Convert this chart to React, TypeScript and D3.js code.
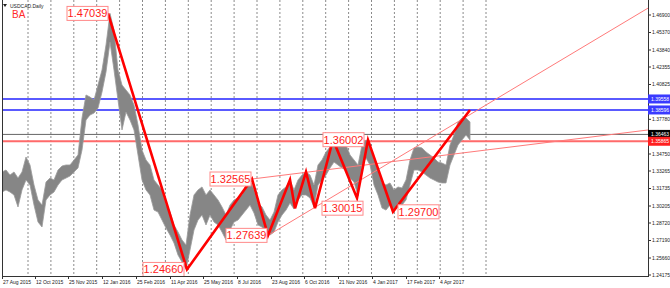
import React from 'react';
import * as d3 from 'd3';

const W = 670;
const H = 288;

// Daily price samples (every 4 bars): highs and lows
const hiPrices = [
  1.3318, 1.3335, 1.3291, 1.3318, 1.3265, 1.3318, 1.3449, 1.3379, 1.3204, 1.3073,
  1.3029, 1.3230, 1.3265, 1.3248, 1.3335, 1.3370, 1.3379, 1.3379, 1.3423, 1.3467,
  1.3790, 1.3991, 1.3973, 1.3947, 1.4078, 1.4209, 1.4428, 1.4704, 1.4559, 1.4209,
  1.4078, 1.4034, 1.3991, 1.3903, 1.3729, 1.3510, 1.3423, 1.3379, 1.3248, 1.3204,
  1.3161, 1.3029, 1.2968, 1.2855, 1.2793, 1.2724, 1.2680, 1.2942, 1.3117, 1.3161,
  1.3187, 1.3117, 1.3161, 1.3117, 1.3073, 1.3012, 1.2942, 1.3029, 1.3073, 1.3091,
  1.3117, 1.3204, 1.3248, 1.3161, 1.3047, 1.3012, 1.2942, 1.2898, 1.2968, 1.3117,
  1.3161, 1.3187, 1.3248, 1.3161, 1.3248, 1.3291, 1.3318, 1.3291, 1.3204, 1.3379,
  1.3423, 1.3493, 1.3536, 1.3589, 1.3598, 1.3580, 1.3554, 1.3467, 1.3423, 1.3379,
  1.3554, 1.3598, 1.3554, 1.3423, 1.3335, 1.3222, 1.3204, 1.3222, 1.3161, 1.3187,
  1.3178, 1.3248, 1.3423, 1.3528, 1.3536, 1.3528, 1.3493, 1.3467, 1.3440, 1.3405,
  1.3396, 1.3379, 1.3554, 1.3641, 1.3755, 1.3790, 1.3790, 1.3755,
];
const loPrices = [
  1.3143, 1.3161, 1.3143, 1.3117, 1.3012, 1.3161, 1.3248, 1.3204, 1.3029, 1.2881,
  1.2837, 1.3073, 1.3117, 1.3143, 1.3204, 1.3248, 1.3265, 1.3283, 1.3318, 1.3353,
  1.3510, 1.3772, 1.3816, 1.3833, 1.3877, 1.4017, 1.4192, 1.4454, 1.4209, 1.3947,
  1.3685, 1.3842, 1.3772, 1.3685, 1.3467, 1.3248, 1.3161, 1.3117, 1.2985, 1.2968,
  1.2898, 1.2828, 1.2767, 1.2697, 1.2592, 1.2531, 1.2468, 1.2636, 1.2811, 1.2898,
  1.2942, 1.2855, 1.2942, 1.2881, 1.2855, 1.2793, 1.2724, 1.2811, 1.2881, 1.2898,
  1.2942, 1.2985, 1.3029, 1.2959, 1.2855, 1.2837, 1.2785, 1.2767, 1.2793, 1.2881,
  1.2942, 1.2985, 1.3047, 1.2994, 1.3073, 1.3117, 1.3117, 1.3091, 1.3012, 1.3204,
  1.3248, 1.3291, 1.3353, 1.3405, 1.3379, 1.3353, 1.3335, 1.3265, 1.3230, 1.3108,
  1.3379, 1.3440, 1.3379, 1.3204, 1.3117, 1.3003, 1.2985, 1.3029, 1.2968, 1.3047,
  1.3029, 1.3073, 1.3204, 1.3335, 1.3335, 1.3318, 1.3291, 1.3265, 1.3248, 1.3230,
  1.3222, 1.3222, 1.3379, 1.3467, 1.3554, 1.3598, 1.3641, 1.3598,
];
const SAMPLE_STEP = 4;

// ZigZag pivots (bar index, price)
const zigBars = [106, 185, 250, 266, 288, 293, 304, 313, 331, 355, 366, 391, 468];
const zigPrices = [1.47039, 1.2466, 1.32565, 1.27639, 1.325, 1.3, 1.3318, 1.30015, 1.36002, 1.3091, 1.3598, 1.297, 1.386];

// Pivot text labels
const pivotTexts = ['1.47039', '1.24660', '1.32565', '1.27639', '1.36002', '1.30015', '1.29700'];
const pivotOf = [0, 1, 2, 3, 8, 7, 11];
// layout: left offset of the box relative to pivot x
const pivotBoxDx = [-41, -44, -42, -42, -10, 7, 5];

// Trend lines (bar, price) pairs
const trendA = [[250, 1.32565], [646, 1.3685]];
const trendB = [[266, 1.27639], [646, 1.475]];

// Horizontal levels
const blueLevels = [1.3956, 1.386];
const blueTexts = ['1.39558', '1.38596'];
const redLevel = 1.35865;
const redText = '1.35865';
const bidLevel = 1.36463;
const bidText = '1.36463';

// Axes
const priceTicks = [1.469, 1.4537, 1.4384, 1.42355, 1.40825, 1.3778, 1.3475, 1.33265, 1.31735, 1.30205, 1.2872, 1.2719, 1.2566, 1.24175];
const dateLabels = ['27 Aug 2015', '12 Oct 2015', '25 Nov 2015', '12 Jan 2016', '25 Feb 2016', '11 Apr 2016', '25 May 2016', '8 Jul 2016', '23 Aug 2016', '6 Oct 2016', '21 Nov 2016', '4 Jan 2017', '17 Feb 2017', '4 Apr 2017'];
const dateBars = [0, 33, 66, 100, 134, 168, 201, 235, 269, 302, 336, 370, 404, 437];

const FONT = '"Liberation Sans", Arial, sans-serif';
const AXIS_FS = 5;

export default function App() {
  const plotL = 2;
  const plotR = 648;
  const plotB = 276;
  const x = d3.scaleLinear().domain([0, 646]).range([plotL, plotR]);
  const y = d3.scaleLinear().domain([1.24175, 1.469]).range([275, 15]);

  const area = d3
    .area<number>()
    .x((_, i) => x(i * SAMPLE_STEP))
    .y0((_, i) => y(loPrices[i]))
    .y1((d) => y(d));

  const zig = d3
    .line<number>()
    .x((b) => x(b))
    .y((_, i) => y(zigPrices[i]));

  const gridBars = d3.range(0, 21).map((k) => 26 + k * 22.9);

  const axisBox = (v: number, txt: string, fill: string, key: string) => (
    <g key={key}>
      <rect x={plotR} y={y(v) - 4.5} width={22} height={9} fill={fill} />
      <text x={plotR + 3} y={y(v) + 1.8} fontSize={AXIS_FS} fill="#fff" fontFamily={FONT}>
        {txt}
      </text>
    </g>
  );

  return (
    <svg width={W} height={H} style={{ position: 'absolute', left: 0, top: 0, background: '#fff' }}>
      <defs>
        <clipPath id="plot">
          <rect x={plotL} y={0} width={plotR - plotL} height={plotB} />
        </clipPath>
      </defs>
      <rect x={0} y={0} width={W} height={H} fill="#fff" />
      {/* grid */}
      {gridBars.map((b, i) => (
        <line key={'g' + i} x1={x(b)} x2={x(b)} y1={0} y2={plotB} stroke="#8a8a8a" strokeWidth={1} strokeDasharray="2,2" />
      ))}
      <g clipPath="url(#plot)">
        {/* horizontal levels */}
        {blueLevels.map((v, i) => (
          <line key={'bl' + i} x1={plotL} x2={plotR} y1={y(v)} y2={y(v)} stroke="#5a5aff" strokeWidth={2} />
        ))}
        <line x1={plotL} x2={plotR} y1={y(bidLevel)} y2={y(bidLevel)} stroke="#666" strokeWidth={1} />
        <line x1={plotL} x2={plotR} y1={y(redLevel)} y2={y(redLevel)} stroke="#ff6a6a" strokeWidth={2} />
        {/* price bars */}
        <path d={area(hiPrices) || ''} fill="#868686" stroke="#9a9a9a" strokeWidth={0.8} />
        {/* trend lines */}
        {[trendA, trendB].map((t, i) => (
          <line key={'t' + i} x1={x(t[0][0])} y1={y(t[0][1])} x2={x(t[1][0])} y2={y(t[1][1])} stroke="#ff7a7a" strokeWidth={1} />
        ))}
        {/* zigzag */}
        <path d={zig(zigBars) || ''} fill="none" stroke="#ff0000" strokeWidth={2.6} strokeLinejoin="miter" />
        {/* pivot labels */}
        {pivotTexts.map((t, i) => {
          const p = pivotOf[i];
          const px = x(zigBars[p]);
          const py = y(zigPrices[p]);
          const bx = px + pivotBoxDx[i];
          return (
            <g key={'pl' + i}>
              <rect x={bx} y={py - 7} width={41} height={14} fill="#fff" stroke="#ff8a8a" strokeWidth={1} />
              <text x={bx + 20.5} y={py + 4} textAnchor="middle" fontSize={11} fill="#ff1a1a" fontFamily={FONT}>
                {t}
              </text>
            </g>
          );
        })}
      </g>
      {/* frame */}
      <line x1={plotL + 0.5} x2={plotL + 0.5} y1={0} y2={plotB} stroke="#333" strokeWidth={1} />
      <line x1={plotR + 0.5} x2={plotR + 0.5} y1={0} y2={plotB} stroke="#333" strokeWidth={1} />
      <line x1={plotL} x2={plotR + 1} y1={plotB + 0.5} y2={plotB + 0.5} stroke="#333" strokeWidth={1} />
      {/* price axis */}
      {priceTicks.map((v, i) => (
        <g key={'pt' + i}>
          <line x1={plotR} x2={plotR + 3} y1={y(v)} y2={y(v)} stroke="#333" />
          <text x={plotR + 4} y={y(v) + 1.8} fontSize={AXIS_FS} fill="#222" fontFamily={FONT}>
            {v.toFixed(5)}
          </text>
        </g>
      ))}
      {blueLevels.map((v, i) => axisBox(v, blueTexts[i], '#3a3aff', 'bx' + i))}
      {axisBox(bidLevel, bidText, '#000', 'bid')}
      {axisBox(redLevel, redText, '#ff2020', 'red')}
      {/* date axis */}
      {dateLabels.map((d, i) => (
        <g key={'d' + i}>
          <line x1={x(dateBars[i]) + 0.5} x2={x(dateBars[i]) + 0.5} y1={plotB} y2={plotB + 3} stroke="#333" />
          <text x={x(dateBars[i]) + 1} y={284} fontSize={AXIS_FS} fill="#222" fontFamily={FONT}>
            {d}
          </text>
        </g>
      ))}
      {/* title */}
      <path d="M3,4 L7,4 L5,7 Z" fill="#222" />
      <text x={10} y={7.5} fontSize={AXIS_FS} fill="#222" fontFamily={FONT}>USDCAD.Daily</text>
      <text x={12} y={18} fontSize={10} fill="#ff2a2a" fontFamily={FONT}>BA</text>
    </svg>
  );
}
